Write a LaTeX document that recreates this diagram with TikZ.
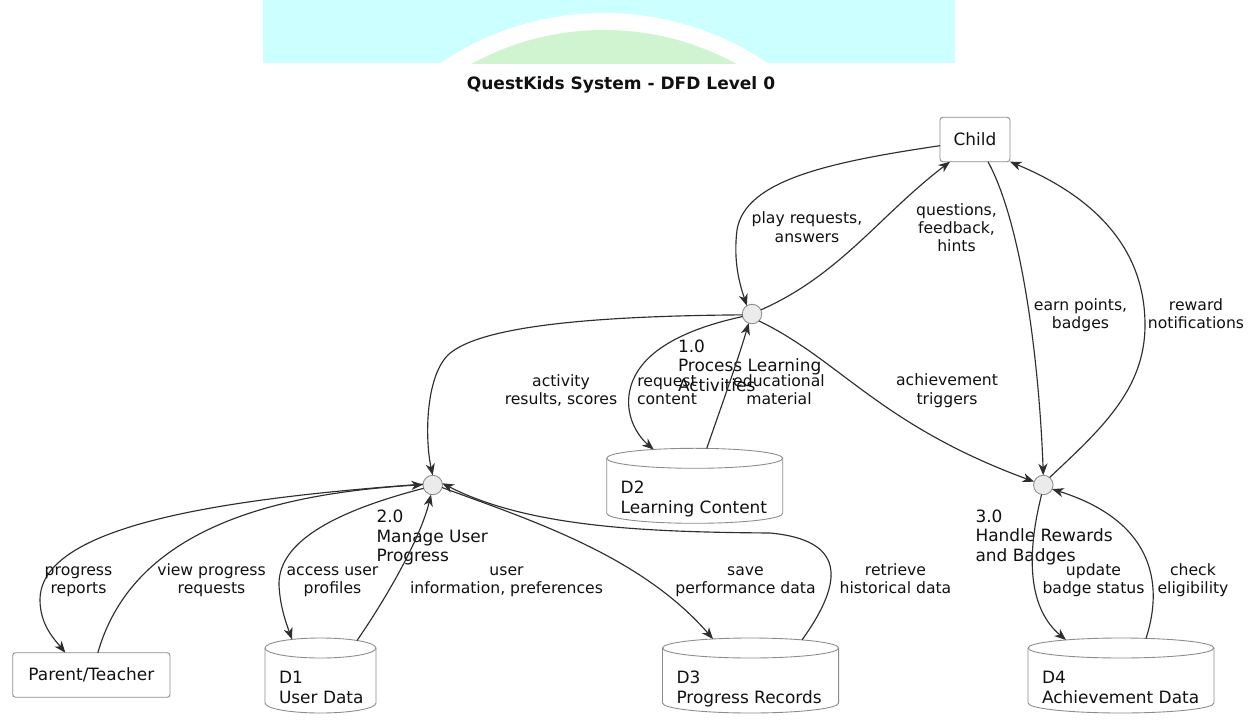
\documentclass[tikz,border=0pt]{standalone}
\usepackage{fontspec}
\setmainfont{DejaVu Sans}
\usetikzlibrary{arrows.meta,calc}

\definecolor{bandcyan}{HTML}{CCFFFF}
\definecolor{archgreen}{HTML}{D0F4D0}
\definecolor{flowink}{HTML}{2E2E2E}
\definecolor{frameink}{HTML}{8C8C8C}
\definecolor{procfill}{HTML}{EBEBEB}
\definecolor{inktext}{HTML}{111111}

\newcommand{\dfdnodefont}{\fontsize{9.65pt}{11pt}\selectfont}
\newcommand{\dfdlblfont}{\fontsize{8.9pt}{10.25pt}\selectfont}

% data store drawn as a cylinder: #1 name, #2 left, #3 right, #4 top, #5 text
\newcommand{\dfdstore}[5]{%
  \path[storeline] (#2,{#4+10})
    .. controls (#2,{#4+4.48}) and ({#2+0.2239*(#3-#2)},#4) .. ({(#2+#3)/2},#4)
    .. controls ({#3-0.2239*(#3-#2)},#4) and (#3,{#4+4.48}) .. (#3,{#4+10})
    -- (#3,{#4+65})
    .. controls (#3,{#4+70.52}) and ({#3-0.2239*(#3-#2)},{#4+75}) .. ({(#2+#3)/2},{#4+75})
    .. controls ({#2+0.2239*(#3-#2)},{#4+75}) and (#2,{#4+70.52}) .. (#2,{#4+65})
    -- cycle;
  \draw[draw=frameink, line width=0.5pt] (#2,{#4+10})
    .. controls (#2,{#4+15.52}) and ({#2+0.2239*(#3-#2)},{#4+20}) .. ({(#2+#3)/2},{#4+20})
    .. controls ({#3-0.2239*(#3-#2)},{#4+20}) and (#3,{#4+15.52}) .. (#3,{#4+10});
  \node[storebox, minimum width={(#3-#2)*0.02cm}] (#1) at ({(#2+#3)/2},{#4+37.5}) {};
  % anchor is the baseline of the last line
  \node[storelbl] (#1-text) at ({#2+14},{#4+65}) {#5};
}

\begin{document}
\begin{tikzpicture}[x=0.02cm,y=-0.02cm,
  every node/.style={inner sep=0pt, outer sep=0pt, text=inktext},
  entity/.style={draw=frameink, line width=0.5pt, fill=white, rounded corners=1.6pt, font=\dfdnodefont},
  process/.style={circle, draw=frameink, line width=0.5pt, fill=procfill, minimum size=0.39cm},
  storebox/.style={rectangle, minimum height=1.5cm},
  storeline/.style={draw=frameink, line width=0.5pt, fill=white},
  flowlbl/.style={font=\dfdlblfont, align=center, anchor=base},
  proclbl/.style={font=\dfdnodefont, align=left, anchor=base west},
  storelbl/.style={font=\dfdnodefont, align=left, anchor=base west},
  flow/.style={draw=flowink, line width=0.65pt, -{Stealth[length=6.6pt,width=5.2pt,inset=2pt]}},
]
\fill[white] (0,0) rectangle (1255,727);
\useasboundingbox (0,0) rectangle (1255,727);

% header band with arch
\fill[bandcyan] (263,0) rectangle (955,63);
\begin{scope}
  \clip (263,0) rectangle (955,63);
  \fill[white] (604,305) circle[radius=292];
  \fill[archgreen] (604,305) circle[radius=275];
\end{scope}

\node[font=\bfseries\fontsize{9.7pt}{11pt}\selectfont] (title) at (621,85) {QuestKids System - DFD Level 0};

% external entities
\node[entity, minimum width=1.4cm, minimum height=0.888cm] (child) at (975,139.5) {Child};
\node[entity, minimum width=3.146cm, minimum height=0.892cm] (parent) at (91.35,675) {Parent/Teacher};

% processes
\node[process] (p1) at (752,314) {};
\node[process] (p2) at (432.7,485) {};
\node[process] (p3) at (1043.3,485) {};
% labels anchored at the baseline of their last line
\node[proclbl] (p1l) at (678,391) {1.0\\Process Learning\\Activities};
\node[proclbl] (p2l) at (376.5,561.5) {2.0\\Manage User\\Progress};
\node[proclbl] (p3l) at (975.5,561) {3.0\\Handle Rewards\\and Badges};

% data stores
\dfdstore{d1}{265}{376}{638}{D1\\User Data}
\dfdstore{d2}{606.7}{782.7}{448.3}{D2\\Learning Content}
\dfdstore{d3}{662.5}{838.6}{638}{D3\\Progress Records}
\dfdstore{d4}{1028}{1214}{638}{D4\\Achievement Data}

% data flows
\draw[flow] (child.190) .. controls (830,162) and (745,180) .. (737,230)
  .. controls (733,262) and (740,285) .. (p1.122);
\draw[flow] (p1.25) .. controls (840,275) and (880,215) .. ($(child.south)+(-25,0)$);
\draw[flow] ($(child.south)+(13,0)$) .. controls (1025,230) and (1040,380) .. (p3.90);
\draw[flow] (p3.50) .. controls (1100,430) and (1145,390) .. (1145,325)
  .. controls (1145,245) and (1090,195) .. (child.south east);
\draw[flow] (p1.185) .. controls (600,316) and (480,325) .. (448,355)
  .. controls (425,378) and (425,440) .. (p2.90);
\draw[flow] (p1.195) .. controls (690,328) and (635,350) .. (629,395)
  .. controls (626,420) and (640,438) .. ($(d2.north)+(-41,1.2)$);
\draw[flow] ($(d2.north)+(12,0.2)$) .. controls (720,410) and (738,360) .. (p1.250);
\draw[flow] (p1.-45) .. controls (840,360) and (880,425) .. (p3.160);
\draw[flow] ($(parent.north)+(6.5,0)$) .. controls (130,540) and (250,495) .. (p2.178);
\draw[flow] (p2.175) .. controls (200,500) and (40,530) .. (40,600)
  .. controls (40,625) and (55,640) .. ($(parent.north)+(-26,0)$);
\draw[flow] (p2.200) .. controls (340,510) and (278,540) .. (279,585)
  .. controls (280,605) and (285,620) .. ($(d1.north)+(-28.5,1.4)$);
\draw[flow] ($(d1.north)+(36.5,2.5)$) .. controls (385,600) and (420,540) .. (p2.-100);
\draw[flow] (p2.-15) .. controls (530,520) and (640,555) .. ($(d3.north)+(-37.5,1)$);
\draw[flow] ($(d3.north)+(51.5,1.9)$) .. controls (845,580) and (845,540) .. (770,533)
  .. controls (650,532) and (530,528) .. (p2.10);
\draw[flow] (p3.-100) .. controls (1025,560) and (1030,610) .. ($(d4.north)+(-55,1.9)$);
\draw[flow] ($(d4.north)+(25,0.4)$) .. controls (1165,580) and (1150,520) .. (p3.-25);

% flow labels, anchored at the baseline of their last line
\node[flowlbl] (l-play) at (807,242) {play requests,\\answers};
\node[flowlbl] (l-quest) at (956.5,251.5) {questions,\\feedback,\\hints};
\node[flowlbl] (l-earn) at (1080.5,328.5) {earn points,\\badges};
\node[flowlbl] (l-reward) at (1196,328.5) {reward\\notifications};
\node[flowlbl] (l-activity) at (561,404.5) {activity\\results, scores};
\node[flowlbl] (l-request) at (667,404.5) {request\\content};
\node[flowlbl] (l-edu) at (779,404.5) {educational\\material};
\node[flowlbl] (l-ach) at (947,404) {achievement\\triggers};
\node[flowlbl] (l-prog) at (78.5,593.5) {progress\\reports};
\node[flowlbl] (l-view) at (211.5,593.5) {view progress\\requests};
\node[flowlbl] (l-access) at (332.5,593.5) {access user\\profiles};
\node[flowlbl] (l-user) at (506.5,593.5) {user\\information, preferences};
\node[flowlbl] (l-save) at (745.5,593.5) {save\\performance data};
\node[flowlbl] (l-retr) at (895.5,593.5) {retrieve\\historical data};
\node[flowlbl] (l-upd) at (1093.5,593.5) {update\\badge status};
\node[flowlbl] (l-check) at (1193,593.5) {check\\eligibility};
\end{tikzpicture}
\end{document}
